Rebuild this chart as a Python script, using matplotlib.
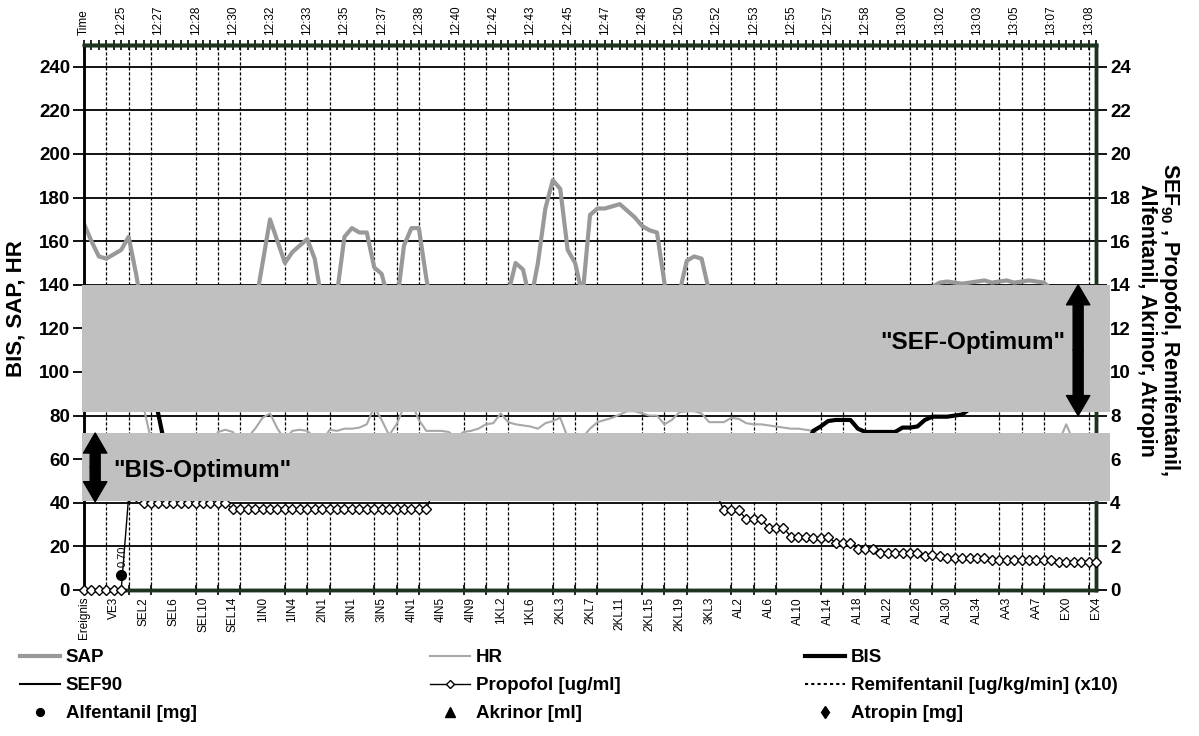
import numpy as np
import matplotlib
matplotlib.use('Agg')
import matplotlib.pyplot as plt
import matplotlib.transforms as mtransforms
from matplotlib.patches import Rectangle

plt.rcParams['font.family'] = ['Liberation Sans', 'DejaVu Sans']
plt.rcParams['mathtext.fontset'] = 'custom'
plt.rcParams['mathtext.rm'] = 'Liberation Sans:bold'
plt.rcParams['mathtext.bf'] = 'Liberation Sans:bold'

# Kategorien (unten) und Uhrzeiten (oben)
event_labels = ['Ereignis', 'VE3', 'SEL2', 'SEL6', 'SEL10', 'SEL14', '1IN0', '1IN4',
                '2IN1', '3IN1', '3IN5', '4IN1', '4IN5', '4IN9', '1KL2', '1KL6',
                '2KL3', '2KL7', '2KL11', '2KL15', '2KL19', '3KL3', 'AL2', 'AL6',
                'AL10', 'AL14', 'AL18', 'AL22', 'AL26', 'AL30', 'AL34', 'AA3',
                'AA7', 'EX0', 'EX4']
time_labels = ['Time', '12:25', '12:27', '12:28', '12:30', '12:32', '12:33', '12:35',
               '12:37', '12:38', '12:40', '12:42', '12:43', '12:45', '12:47', '12:48',
               '12:50', '12:52', '12:53', '12:55', '12:57', '12:58', '13:00', '13:02',
               '13:03', '13:05', '13:07', '13:08']

# linke Achse: SAP, HR, BIS
sap = [168, 160, 153, 152, 154, 156, 162, 145, 125, 120,
       118, 112, 110, 108, 110, 112, 115, 118, 120, 118,
       120, 122, 125, 130, 150, 170, 160, 150, 155, 158,
       161, 152, 132, 128, 136, 162, 166, 164, 164, 148,
       145, 132, 130, 158, 166, 166, 143, 125, 120, 118,
       116, 115, 118, 120, 122, 125, 130, 136, 150, 147,
       132, 150, 175, 188, 184, 156, 150, 135, 172, 175,
       175, 176, 177, 174, 171, 167, 165, 164, 141, 118,
       136, 151, 153, 152, 137, 125, 120, 118, 115, 112,
       110, 112, 115, 118, 120, 122, 125, 125, 122, 120,
       118, 120, 122, 125, 128, 130, 128, 126, 128, 130,
       132, 134, 136, 137, 139, 141, 141.5, 141, 140.5, 141,
       141.5, 142, 141, 141.5, 142, 141, 141.5, 142, 141.5, 141,
       138, 132, 128, 125, 122, 120, 118]
hr = [95, 96, 98, 97, 96, 95, 94, 93, 84, 69,
      62, 60, 58, 57, 58, 60, 62, 65, 72.5, 73.5,
      72.5, 68, 70, 74, 79, 81, 74, 69, 73, 73.5,
      73, 70, 68, 73.5, 73, 74, 74, 74.5, 76, 84,
      78, 71, 76, 84, 86, 78, 73, 73, 73, 72.5,
      70, 72.5, 73, 74, 76, 76.5, 81, 77, 76, 75.5,
      75, 74, 76.5, 77.5, 79, 70, 66, 70, 74, 77,
      78, 79, 80.5, 82, 82, 81, 80, 80, 76, 78,
      81.5, 82, 82, 81, 77, 77, 77, 79, 78.5, 76.5,
      76, 76, 75.5, 75, 74.5, 74, 74, 73.5, 73, 70,
      67, 66, 65, 65, 64, 64, 65, 66, 65, 64,
      64, 65, 65, 66, 65, 64, 64, 65, 66, 65,
      64, 64, 65, 65, 66, 65, 64, 65, 65, 66,
      65, 68, 76, 68, 66, 65, 65]
bis = [95, 96, 97, 96, 95, 96, 97, 96, 96, 96,
       80.5, 64, 58, 55, 54, 52, 50, 52, 53, 55,
       54, 52, 50, 49, 50, 52, 54, 55, 53, 52,
       50, 48, 50, 52, 55, 57, 58, 56, 55, 54,
       52, 50, 49, 50, 52, 55, 57, 58, 57, 55,
       54, 53, 52, 54, 56, 58, 60, 58, 56, 55,
       54, 52, 50, 51, 53, 55, 56, 55, 53, 52,
       51, 50, 52, 54, 55, 56, 55, 54, 53, 54,
       55, 56, 57, 58, 57, 56, 55, 56, 58, 60,
       61, 60, 59, 60, 62, 63, 64, 66, 73, 75,
       77.5, 78, 78, 78, 74, 72.5, 72.5, 72.5, 72.5, 72.5,
       74.5, 74.5, 75, 78, 79.5, 79.5, 79.5, 80, 80.5, 83,
       86, 88, 90, 91, 92, 93, 92, 93, 94, 93,
       94, 95, 94, 95, 96, 95, 96]

# rechte Achse: Medikamente
propofol = [0, 0, 0, 0, 0, 0, 4.3, 4.3, 4.0, 4.0,
            4.0, 4.0, 4.0, 4.0, 4.0, 4.0, 4.0, 4.0, 4.0, 4.0,
            3.7, 3.7, 3.7, 3.7, 3.7, 3.7, 3.7, 3.7, 3.7, 3.7,
            3.7, 3.7, 3.7, 3.7, 3.7, 3.7, 3.7, 3.7, 3.7, 3.7,
            3.7, 3.7, 3.7, 3.7, 3.7, 3.7, 3.7, 4.6, 5.0, 5.0,
            5.0, 5.0, 5.0, 5.5, 5.5, 5.5, 5.5, 5.0, 5.0, 5.0,
            5.0, 5.0, 5.0, 5.0, 5.0, 5.0, 5.0, 5.0, 5.0, 5.0,
            5.0, 5.0, 4.8, 4.8, 4.8, 4.6, 4.6, 4.6, 4.5, 4.5,
            4.5, 4.5, 4.5, 4.4, 4.4, 4.4, 3.65, 3.65, 3.65, 3.25,
            3.25, 3.25, 2.85, 2.85, 2.85, 2.45, 2.45, 2.45, 2.4, 2.4,
            2.45, 2.15, 2.15, 2.15, 1.9, 1.9, 1.9, 1.7, 1.7, 1.7,
            1.7, 1.7, 1.7, 1.55, 1.6, 1.55, 1.48, 1.48, 1.48, 1.48,
            1.48, 1.48, 1.37, 1.37, 1.37, 1.37, 1.37, 1.37, 1.37, 1.37,
            1.37, 1.3, 1.3, 1.3, 1.3, 1.3, 1.3]
sef90 = []          # im Bild nicht sichtbar
remifentanil = []
alfentanil_pos = [5]
alfentanil = [0.70]
akrinor = []
atropin = []

bis_optimum = (4.1, 7.2)    # rechte Skala
sef_optimum = (8.15, 14.0)

x = np.arange(len(sap))
band_col = '#c0c0c0'
axis_col = '#1e331e'

fig = plt.figure(figsize=(11.99, 7.36), dpi=100)
ax = fig.add_axes([84 / 1199, 1 - 590 / 736, 1012 / 1199, 545 / 736])

l_hr, = ax.plot(x, hr, color='#a8a8a8', lw=1.5, zorder=2, label='HR')
l_sap, = ax.plot(x, sap, color='#999999', lw=3.0, zorder=2, label='SAP')
l_bis, = ax.plot(x, bis, color='black', lw=3.0, zorder=3, label='BIS')

ax.set_xlim(0, 136)
ax.set_ylim(0, 250)
ax.set_axisbelow(True)
ax.set_yticks(range(0, 241, 20), [str(v) for v in range(0, 241, 20)],
              fontsize=13.5, fontweight='bold')
ax.yaxis.grid(True, color='black', lw=1.3)
ax.tick_params(axis='y', direction='out', length=8, width=1.3, pad=2)

ax.set_xticks(np.arange(0, 137, 4), event_labels, rotation=90, fontsize=8.5)
ax.tick_params(axis='x', which='major', length=0, pad=5)
ax.set_xticks(np.arange(0, 136, 3), minor=True)
ax.xaxis.grid(True, which='minor', color='black', ls=(0, (2.5, 1.5)), lw=0.9)
ax.tick_params(axis='x', which='minor', direction='inout', length=7, width=1.2)

sec = ax.secondary_xaxis('top')
sec.set_xticks(np.arange(0, 136, 5), time_labels, rotation=90, fontsize=8.5)
sec.set_xticks(np.arange(0, 137, 1), minor=True)
sec.tick_params(which='both', direction='inout', length=7, width=1.2, pad=4)
sec.spines['top'].set_color(axis_col)
sec.spines['top'].set_linewidth(2.5)

ax2 = ax.twinx()
ax2.set_ylim(0, 25)
ax2.set_yticks(range(0, 25, 2), [str(v) for v in range(0, 25, 2)],
               fontsize=13.5, fontweight='bold')
ax2.tick_params(axis='y', direction='out', length=8, width=1.3, pad=2)

l_prop, = ax2.plot(x, propofol, color='black', lw=1.0, marker='D', ms=5,
                   mfc='white', mec='black', mew=1.0, zorder=3, clip_on=False,
                   label='Propofol [ug/ml]')
l_sef, = ax2.plot(np.arange(len(sef90)), sef90, color='black', lw=1.5, label='SEF90')
l_remi, = ax2.plot(np.arange(len(remifentanil)), remifentanil, color='black', lw=1.5,
                   ls=(0, (1.5, 1.5)), label='Remifentanil [ug/kg/min] (x10)')
l_alf, = ax2.plot(alfentanil_pos, alfentanil, ls='none', marker='o', ms=7,
                  color='black', zorder=4, label='Alfentanil [mg]')
for px, v in zip(alfentanil_pos, alfentanil):
    ax2.text(px + 0.15, v + 0.35, f'{v:.2f}', rotation=90, fontsize=8,
             ha='center', va='bottom', zorder=4)
l_akr, = ax2.plot(np.arange(len(akrinor)), akrinor, ls='none', marker='^', ms=9,
                  color='black', label='Akrinor [ml]')
l_atr, = ax2.plot(np.arange(len(atropin)), atropin, ls='none', marker='d', ms=8,
                  color='black', label='Atropin [mg]')

for a in (ax, ax2):
    a.spines['left'].set_linewidth(1.8)
    a.spines['left'].set_color('black')
    a.spines['right'].set_linewidth(2.5)
    a.spines['right'].set_color(axis_col)
    a.spines['bottom'].set_linewidth(2.5)
    a.spines['bottom'].set_color(axis_col)
    a.spines['top'].set_linewidth(2.5)
    a.spines['top'].set_color(axis_col)

# Optimum-Bereiche
trans = mtransforms.blended_transform_factory(ax2.transAxes, ax2.transData)
for lo, hi in (bis_optimum, sef_optimum):
    ax2.add_patch(Rectangle((-0.002, lo), 1.016, hi - lo, transform=trans,
                            facecolor=band_col, edgecolor='none', zorder=5,
                            clip_on=False))

arrow_style = 'simple,head_length=0.9,head_width=1.05,tail_width=0.45'
for xa, lo, hi in ((1.5, 4.05, 7.2), (133.6, 8.0, 14.0)):
    mid = (lo + hi) / 2
    for end in (lo, hi):
        ax2.annotate('', xy=(xa, end), xytext=(xa, mid),
                     arrowprops=dict(arrowstyle=arrow_style, fc='black', ec='black',
                                     mutation_scale=16, shrinkA=0, shrinkB=0),
                     zorder=6, annotation_clip=False)

ax2.text(3.9, 5.5, '"BIS-Optimum"', fontsize=17.5, fontweight='bold',
         ha='left', va='center', zorder=7)
ax2.text(131.9, 11.35, '"SEF-Optimum"', fontsize=17.5, fontweight='bold',
         ha='right', va='center', zorder=7)

fig.text(16 / 1199, 1 - 309 / 736, 'BIS, SAP, HR', rotation=90, fontsize=16,
         fontweight='bold', ha='center', va='center')
fig.text(1159 / 1199, 1 - 320 / 736,
         'SEF$_{\\mathbf{90}}$ , Propofol, Remifentanil,\nAlfentanil, Akrinor, Atropin',
         rotation=270, fontsize=15.5, fontweight='bold', ha='center', va='center',
         multialignment='center', linespacing=1.0)

# Legende in drei Spalten
legend_cols = [([l_sap, l_sef, l_alf], 20), ([l_hr, l_prop, l_akr], 430),
               ([l_bis, l_remi, l_atr], 805)]
for handles, xpx in legend_cols:
    fig.legend(handles=handles, labels=[h.get_label() for h in handles],
               loc='upper left', bbox_to_anchor=(xpx / 1199, 1 - 649 / 736),
               frameon=False, prop={'weight': 'bold', 'size': 13.5},
               handlelength=2.15, handletextpad=0.3, labelspacing=0.59,
               borderpad=0, borderaxespad=0, markerscale=0.8)

fig.savefig('out.png', dpi=100)
